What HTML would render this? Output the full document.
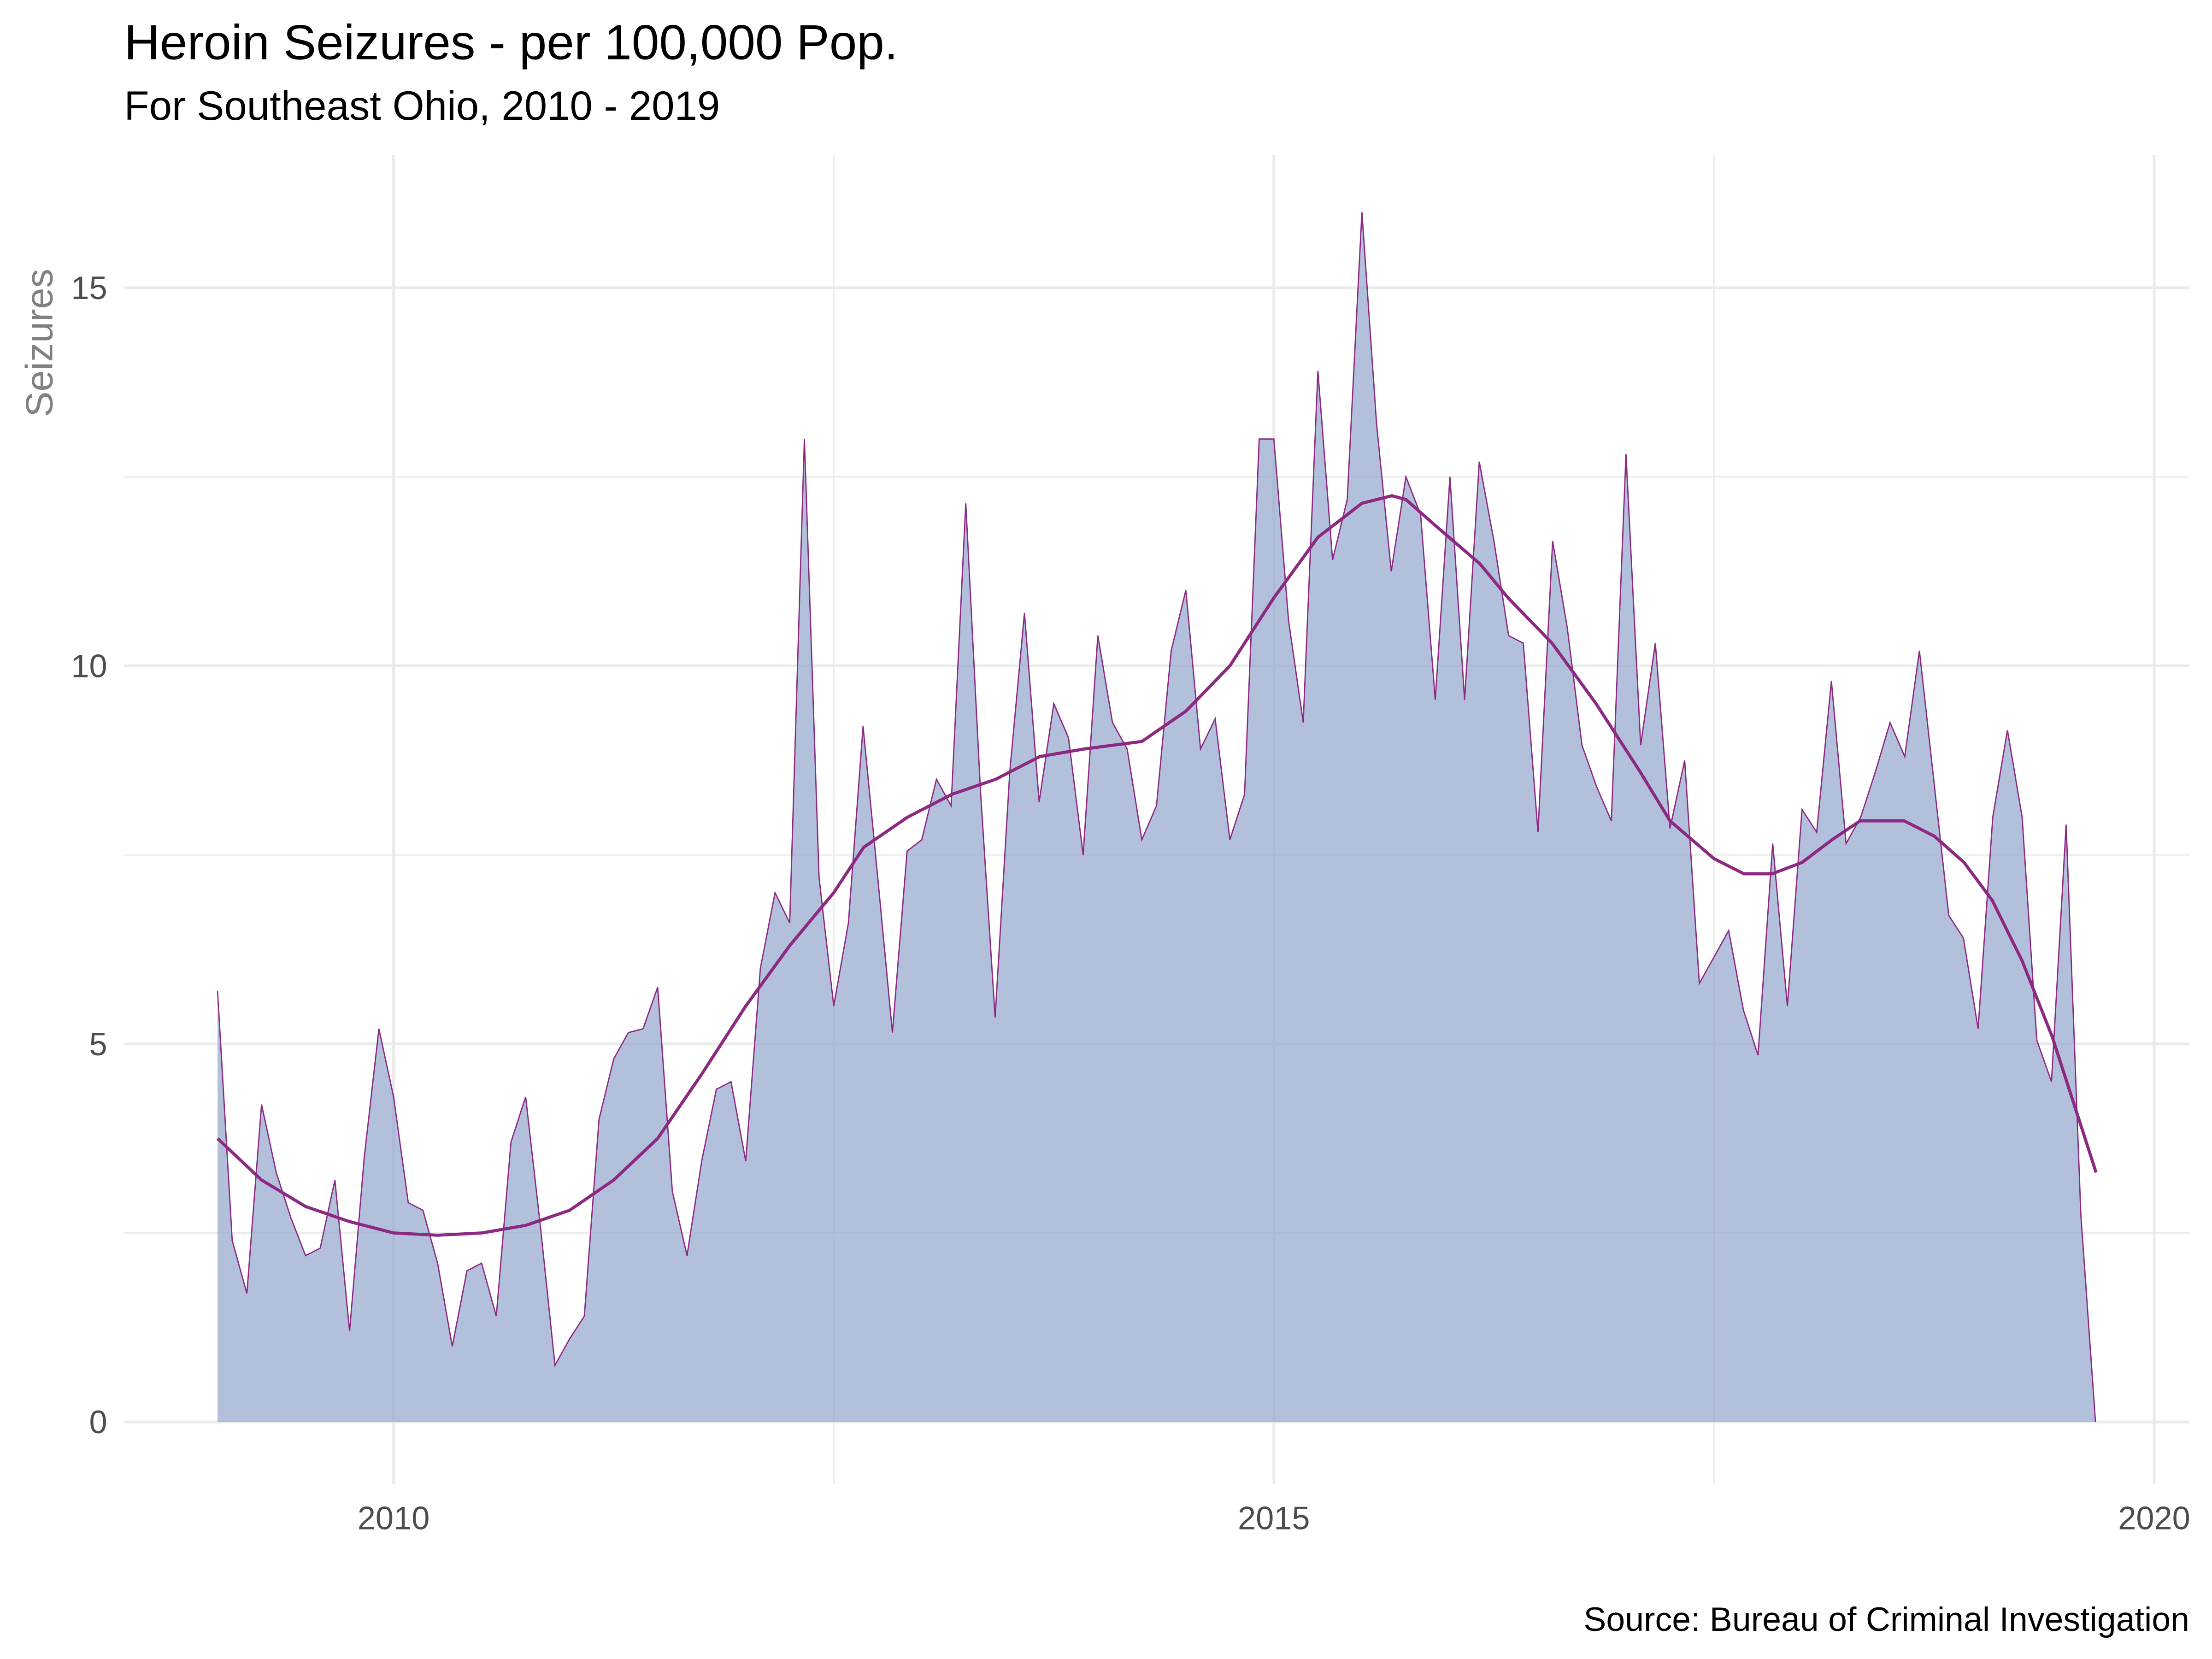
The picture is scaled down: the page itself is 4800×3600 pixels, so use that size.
<!DOCTYPE html>
<html>
<head>
<meta charset="utf-8">
<style>
  html,body{margin:0;padding:0;background:#fff;}
  svg{display:block;font-family:"Liberation Sans",Arial,sans-serif;}
</style>
</head>
<body>
<svg id="chart" width="4800" height="3600" viewBox="0 0 1568 1176" xmlns="http://www.w3.org/2000/svg">
  <rect x="0" y="0" width="1568" height="1176" fill="#ffffff"/>
  <g id="grid"></g>
  <g id="marks"></g>
  <g id="axes"></g>
  <text x="88" y="42" font-size="35" fill="#000">Heroin Seizures - per 100,000 Pop.</text>
  <text x="88" y="85" font-size="29" fill="#000">For Southeast Ohio, 2010 - 2019</text>
  <text transform="translate(37,243) rotate(-90)" text-anchor="middle" font-size="27" fill="#808080">Seizures</text>
  <text x="1552" y="1156" text-anchor="end" font-size="24" fill="#000">Source: Bureau of Criminal Investigation</text>
</svg>
<script>
const startYear = 2009;
const seizures = [5.7,2.4,1.7,4.2,3.3,2.7,2.2,2.3,3.2,1.2,3.5,5.2,
4.3,2.9,2.8,2.1,1.0,2.0,2.1,1.4,3.7,4.3,2.6,0.75,
1.1,1.4,4.0,4.8,5.15,5.2,5.75,3.05,2.2,3.45,4.4,4.5,
3.45,6.0,7.0,6.6,13.0,7.2,5.5,6.6,9.2,7.2,5.15,7.55,
7.7,8.5,8.15,12.15,8.35,5.35,8.6,10.7,8.2,9.5,9.05,7.5,
10.4,9.25,8.9,7.7,8.15,10.2,11.0,8.9,9.3,7.7,8.3,13.0,
13.0,10.6,9.25,13.9,11.4,12.2,16.0,13.2,11.25,12.5,12.0,9.55,
12.5,9.55,12.7,11.65,10.4,10.3,7.8,11.65,10.5,8.95,8.4,7.95,
12.8,8.95,10.3,7.85,8.75,5.8,6.15,6.5,5.45,4.85,7.65,5.5,
8.1,7.8,9.8,7.65,8.0,8.6,9.25,8.8,10.2,8.45,6.7,6.4,
5.2,8.0,9.15,8.0,5.05,4.5,7.9,2.75,0];
const smoothYears = [2009.0,2009.25,2009.5,2009.75,2010.0,2010.25,2010.5,2010.75,2011.0,2011.25,2011.5,2011.75,2012.0,2012.25,2012.5,2012.67,2012.92,2013.17,2013.42,2013.67,2013.92,2014.25,2014.5,2014.75,2015.0,2015.25,2015.5,2015.67,2015.75,2015.92,2016.17,2016.33,2016.58,2016.83,2017.08,2017.25,2017.5,2017.67,2017.83,2018.0,2018.17,2018.33,2018.58,2018.75,2018.92,2019.08,2019.25,2019.42,2019.58,2019.67];
const smoothVals = [3.75,3.2,2.85,2.65,2.5,2.47,2.5,2.6,2.8,3.2,3.75,4.6,5.5,6.3,7.0,7.6,8.0,8.3,8.5,8.8,8.9,9.0,9.4,10.0,10.9,11.7,12.15,12.25,12.2,11.85,11.35,10.9,10.3,9.5,8.6,7.95,7.45,7.25,7.25,7.4,7.7,7.95,7.95,7.75,7.4,6.9,6.1,5.1,3.95,3.3];
const yTicks = [0,5,10,15];
const yMinor = [2.5,7.5,12.5];
const xTicks = [2010,2015,2020];
const xMinor = [2012.5,2017.5];

const NS = "http://www.w3.org/2000/svg";
const panel = {left:88, right:1552, top:110, bottom:1052};
function xs(y){ return 279 + (y-2010)*124.8; }
function ys(v){ return 1008 - v*53.6; }
function mk(tag, attrs, parent){
  const e = document.createElementNS(NS, tag);
  for (const k in attrs) e.setAttribute(k, attrs[k]);
  parent.appendChild(e);
  return e;
}
const grid = document.getElementById('grid');
const marks = document.getElementById('marks');
const axes = document.getElementById('axes');

yMinor.forEach(v=>{
  const l = mk('line',{x1:panel.left,x2:panel.right,y1:ys(v),y2:ys(v),stroke:'#ebebeb','stroke-width':1},grid);
  
  
});
xMinor.forEach(v=>{
  const l = mk('line',{x1:xs(v),x2:xs(v),y1:panel.top,y2:panel.bottom,stroke:'#ebebeb','stroke-width':1},grid);
  
  
});
yTicks.forEach(v=>{
  const l = mk('line',{x1:panel.left,x2:panel.right,y1:ys(v),y2:ys(v),stroke:'#ebebeb','stroke-width':2},grid);
  
  
  const t = mk('text',{x:76,y:ys(v)+8,'text-anchor':'end','font-size':23,fill:'#4d4d4d'},axes);
  t.textContent = v;
  
  
});
xTicks.forEach(v=>{
  const l = mk('line',{x1:xs(v),x2:xs(v),y1:panel.top,y2:panel.bottom,stroke:'#ebebeb','stroke-width':2},grid);
  
  
  const t = mk('text',{x:xs(v),y:1084,'text-anchor':'middle','font-size':23,fill:'#4d4d4d'},axes);
  t.textContent = v;
  
  
});

let pts = seizures.map((v,i)=>[xs(startYear+i/12), ys(v)]);
let lineD = pts.map((p,i)=>(i?'L':'M')+p[0].toFixed(2)+','+p[1].toFixed(2)).join(' ');
let areaD = lineD + ' L'+pts[pts.length-1][0].toFixed(2)+','+ys(0)+' L'+pts[0][0].toFixed(2)+','+ys(0)+' Z';
const area = mk('path',{d:areaD,fill:'#8fa2cb','fill-opacity':0.68,stroke:'none'},marks);


const line = mk('path',{d:lineD,fill:'none',stroke:'#8c2981','stroke-width':0.9},marks);


const sD = smoothYears.map((y,i)=>(i?'L':'M')+xs(y).toFixed(2)+','+ys(smoothVals[i]).toFixed(2)).join(' ');
const sm = mk('path',{d:sD,fill:'none',stroke:'#8c2981','stroke-width':2.2,'stroke-linejoin':'round'},marks);


</script>
</body>
</html>
